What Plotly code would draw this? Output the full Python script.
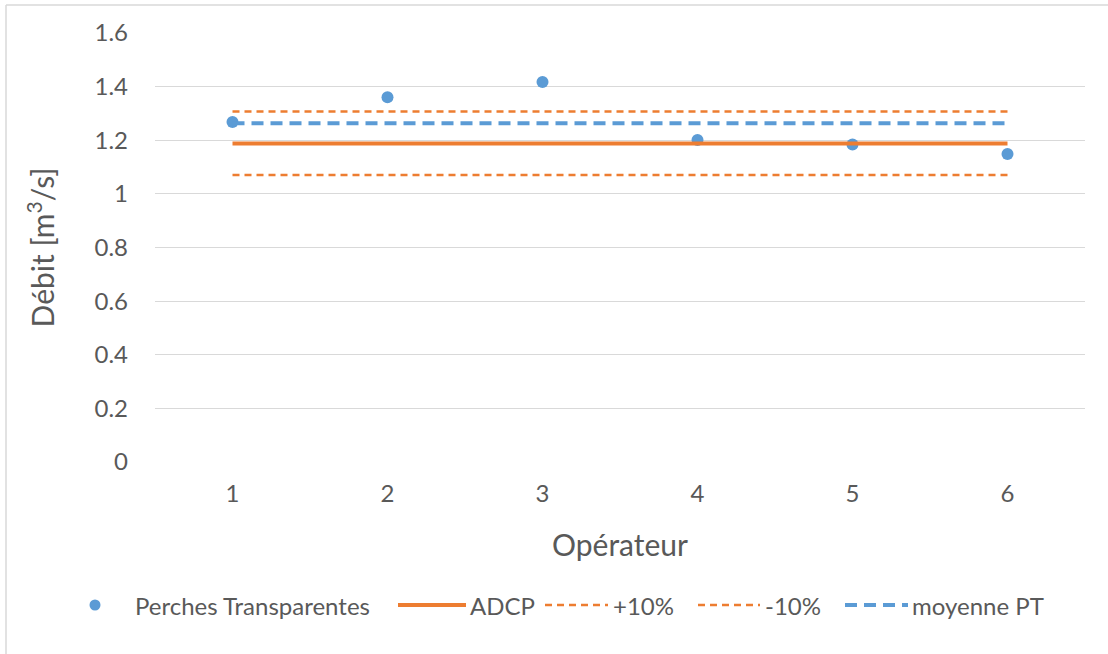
import plotly.graph_objects as go

operateurs = [1, 2, 3, 4, 5, 6]
perches = [1.268, 1.36, 1.417, 1.201, 1.184, 1.149]
adcp = [1.188] * 6
plus10 = [1.307] * 6
moins10 = [1.07] * 6
moyenne_pt = [1.263] * 6
y_ticks = [0, 0.2, 0.4, 0.6, 0.8, 1, 1.2, 1.4, 1.6]

BLUE = "#5B9BD5"
ORANGE = "#ED7D31"
TXT = "#595959"
GRID = "#D9D9D9"
FONT = "Lato, Open Sans, sans-serif"

# plot area in pixels (for converting legend positions to paper coords)
L, R, T, B = 155, 1085, 33, 462
W, H = R - L, B - T
def px(x):
    return (x - L) / W
def py(y):
    return (B - y) / H

fig = go.Figure()
fig.add_trace(go.Scatter(x=operateurs, y=perches, mode="markers", name="Perches Transparentes",
                         marker=dict(color=BLUE, size=12)))
fig.add_trace(go.Scatter(x=operateurs, y=adcp, mode="lines", name="ADCP",
                         line=dict(color=ORANGE, width=4)))
fig.add_trace(go.Scatter(x=operateurs, y=plus10, mode="lines", name="+10%",
                         line=dict(color=ORANGE, width=2.5, dash="7px,5px")))
fig.add_trace(go.Scatter(x=operateurs, y=moins10, mode="lines", name="-10%",
                         line=dict(color=ORANGE, width=2.5, dash="7px,5px")))
fig.add_trace(go.Scatter(x=operateurs, y=moyenne_pt, mode="lines", name="moyenne PT",
                         line=dict(color=BLUE, width=4, dash="12px,7px")))

# manual legend (to match the sample lengths of the reference)
LEG_Y = 605
shapes = [
    dict(type="line", xref="paper", yref="paper", x0=px(6), x1=px(1200), y0=py(5), y1=py(5),
         line=dict(color=GRID, width=1.5)),
    dict(type="line", xref="paper", yref="paper", x0=px(6), x1=px(6), y0=py(5), y1=py(700),
         line=dict(color=GRID, width=1.5)),
    dict(type="circle", xref="paper", yref="paper", x0=px(89.5), x1=px(100.5),
         y0=py(LEG_Y - 5.5), y1=py(LEG_Y + 5.5), fillcolor=BLUE, line=dict(width=0)),
    dict(type="line", xref="paper", yref="paper", x0=px(398), x1=px(466), y0=py(LEG_Y), y1=py(LEG_Y),
         line=dict(color=ORANGE, width=4)),
    dict(type="line", xref="paper", yref="paper", x0=px(545), x1=px(608), y0=py(LEG_Y), y1=py(LEG_Y),
         line=dict(color=ORANGE, width=2.5, dash="7px,5px")),
    dict(type="line", xref="paper", yref="paper", x0=px(698), x1=px(760), y0=py(LEG_Y), y1=py(LEG_Y),
         line=dict(color=ORANGE, width=2.5, dash="7px,5px")),
    dict(type="line", xref="paper", yref="paper", x0=px(845), x1=px(908), y0=py(LEG_Y), y1=py(LEG_Y),
         line=dict(color=BLUE, width=4, dash="12px,7px")),
]
leg_texts = [(133, "Perches Transparentes"), (468, "ADCP"), (611, "+10%"), (763, "-10%"), (910, "moyenne PT")]
annotations = [
    dict(text=t, xref="paper", yref="paper", x=px(x0), y=py(LEG_Y), xanchor="left", yanchor="middle",
         showarrow=False, font=dict(family=FONT, size=24, color=TXT))
    for x0, t in leg_texts
]

fig.update_layout(
    width=1108, height=654,
    margin=dict(l=L, r=1108 - R, t=T, b=654 - B),
    paper_bgcolor="white", plot_bgcolor="white",
    font=dict(family=FONT, color=TXT, size=24),
    showlegend=False,
    xaxis=dict(range=[0.5, 6.5], tickvals=operateurs, ticktext=[str(v) for v in operateurs],
               showgrid=False, zeroline=False, showline=False, ticks="",
               ticklabelstandoff=15,
               tickfont=dict(size=24, color=TXT),
               title=dict(text="Opérateur", font=dict(size=30, color=TXT), standoff=28)),
    yaxis=dict(range=[-0.0001, 1.6], tickvals=y_ticks, ticktext=[f"{v:g}" for v in y_ticks],
               showgrid=True, gridcolor=GRID, gridwidth=1, zeroline=False,
               showline=False, ticks="", ticklabelstandoff=26,
               tickfont=dict(size=24, color=TXT),
               title=dict(text="Débit [m<sup>3</sup>/s]", font=dict(size=30, color=TXT), standoff=30)),
    shapes=shapes,
    annotations=annotations,
)
fig.write_html("out.html", config={"displayModeBar": False},
               post_script="document.body.style.margin='0';")
